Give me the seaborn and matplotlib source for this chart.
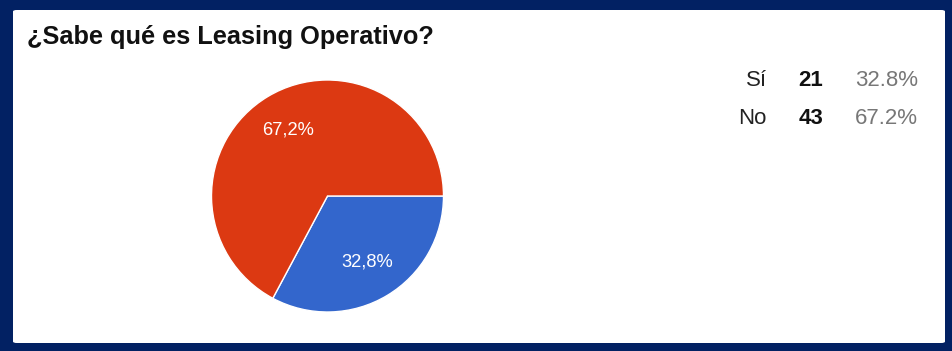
import matplotlib
matplotlib.use("Agg")
import matplotlib.pyplot as plt
from matplotlib.patches import FancyBboxPatch
import seaborn as sns

# ---- data ----
title = "¿Sabe qué es Leasing Operativo?"
categories = ["Sí", "No"]
counts = [21, 43]
pct_labels = ["32.8%", "67.2%"]

sns.set_theme(style="white")
plt.rcParams['font.family'] = ['Liberation Sans', 'DejaVu Sans']

W, H = 952, 351
fig = plt.figure(figsize=(W / 100, H / 100), dpi=100)
fig.patch.set_facecolor("#022163")

def fx(px):
    return px / W

def fy(py):
    return 1 - py / H

# white panel
panel = FancyBboxPatch((fx(13), fy(343)), fx(945) - fx(13), fy(10) - fy(343),
                       boxstyle="round,pad=0,rounding_size=0.004",
                       transform=fig.transFigure, facecolor="white",
                       edgecolor="none", zorder=-5)
fig.patches.append(panel)

# title
fig.text(fx(27), fy(44), title, fontsize=18.3, fontweight="bold",
         color="#111111", va="baseline", ha="left")

# pie
cx, cy, r = 327.5, 196, 116
ax = fig.add_axes([fx(cx - r), fy(cy + r), 2 * r / W, 2 * r / H])
ax.set_zorder(5)
ax.patch.set_alpha(0)
palette = sns.color_palette(["#3366CC", "#DC3912"])
wedges, texts, autotexts = ax.pie(
    counts, colors=palette, startangle=0, counterclock=False,
    autopct=lambda p: f"{p:.1f}".replace(".", ",") + "%",
    pctdistance=0.66,
    wedgeprops=dict(edgecolor="white", linewidth=1.0),
    textprops=dict(color="white", fontsize=13.2))
ax.set_xlim(-1, 1)
ax.set_ylim(-1, 1)
ax.set_aspect("equal")
ax.axis("off")

# legend table
row_y = [86, 124]
for cat, n, pct, yy in zip(categories, counts, pct_labels, row_y):
    fig.text(fx(767), fy(yy), cat, fontsize=16, color="#222222",
             ha="right", va="baseline")
    fig.text(fx(823), fy(yy), str(n), fontsize=16, fontweight="bold",
             color="#111111", ha="right", va="baseline")
    fig.text(fx(918), fy(yy), pct, fontsize=16, color="#777777",
             ha="right", va="baseline")

fig.savefig("out.png", dpi=100, facecolor=fig.get_facecolor())
